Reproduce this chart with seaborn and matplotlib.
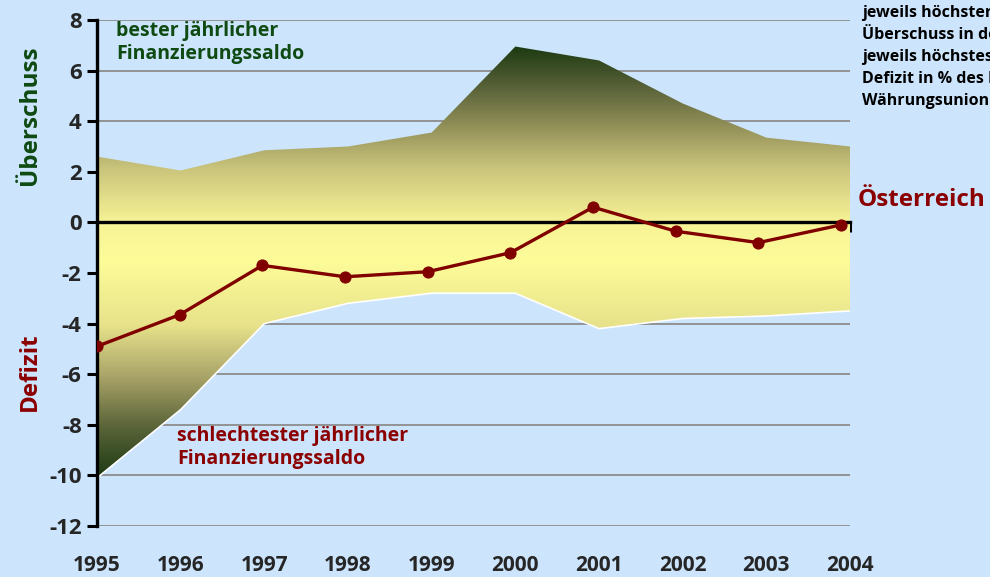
import numpy as np
import pandas as pd
import seaborn as sns
import matplotlib.pyplot as plt
from matplotlib.colors import LinearSegmentedColormap

# Finanzierungssaldo in % des BIP
jahre = [1995, 1996, 1997, 1998, 1999, 2000, 2001, 2002, 2003, 2004]
bester = [2.6, 2.05, 2.85, 3.0, 3.55, 6.95, 6.4, 4.7, 3.35, 3.0]
schlechtester = [-10.1, -7.4, -4.0, -3.2, -2.8, -2.8, -4.2, -3.8, -3.7, -3.5]
oesterreich = [-4.9, -3.65, -1.7, -2.15, -1.95, -1.2, 0.6, -0.35, -0.8, -0.1]
y_ticks = list(range(-12, 9, 2))

df = pd.DataFrame({'Jahr': jahre, 'Österreich': oesterreich})

hintergrund = '#cce5fd'
gruen = '#0f4a12'
rot = '#8b0000'

sns.set_theme(style='white', rc={'axes.facecolor': hintergrund, 'figure.facecolor': hintergrund})
plt.rcParams['font.family'] = ['Open Sans', 'DejaVu Sans']
plt.rcParams['font.weight'] = 'bold'
plt.rcParams['axes.unicode_minus'] = False

fig = plt.figure(figsize=(9.9, 5.77), dpi=100)
ax = fig.add_axes([0.098, 0.0884, 0.7606, 0.877])

# Verlaufsfarben
cmap_oben = LinearSegmentedColormap.from_list('oben', [
    (0.0, '#f6f295'), (0.3, '#cbc57c'), (0.55, '#918f58'), (0.8, '#505b33'), (1.0, '#1c3a10')])
cmap_unten = LinearSegmentedColormap.from_list('unten', [
    (0.0, '#1c3a12'), (0.2, '#5b6439'), (0.4, '#aaa569'), (0.6, '#e8e38b'),
    (0.85, '#fdfc99'), (1.0, '#f7f396')])
verlauf = np.linspace(0, 1, 256).reshape(-1, 1)

# obere Fläche (bester Saldo)
poly_oben = ax.fill_between(jahre, 0, bester, facecolor='none', edgecolor='none')
im = ax.imshow(verlauf, cmap=cmap_oben, origin='lower', aspect='auto',
               extent=[jahre[0], jahre[-1], 0, max(bester)], zorder=1)
im.set_clip_path(poly_oben.get_paths()[0], ax.transData)

# untere Fläche (schlechtester Saldo)
poly_unten = ax.fill_between(jahre, schlechtester, 0, facecolor='none', edgecolor='none')
im2 = ax.imshow(verlauf, cmap=cmap_unten, origin='lower', aspect='auto',
                extent=[jahre[0], jahre[-1], min(schlechtester), 0], zorder=1)
im2.set_clip_path(poly_unten.get_paths()[0], ax.transData)
ax.plot(jahre, schlechtester, color='white', lw=1.2, zorder=2)

ax.set_xlim(jahre[0], jahre[-1])
ax.set_ylim(-12, 8)
ax.set_yticks(y_ticks)
ax.yaxis.grid(True, color='#8c8c8c', lw=1.3)
ax.set_axisbelow(True)

# Achsen
for s in ['top', 'right']:
    ax.spines[s].set_visible(False)
ax.spines['left'].set_linewidth(2.4)
ax.spines['left'].set_color('black')
ax.spines['bottom'].set_position(('data', 0))
ax.spines['bottom'].set_linewidth(2.4)
ax.spines['bottom'].set_color('black')
ax.spines['bottom'].set_zorder(4)
ax.set_xticks(jahre)
ax.tick_params(axis='x', direction='out', length=7, width=2.2, color='black',
               bottom=True, labelbottom=False)
ax.tick_params(axis='y', direction='out', length=7, width=2.2, color='black',
               left=True, labelsize=16, pad=4)
for t in ax.get_yticklabels():
    t.set_fontweight('bold')

sec = ax.secondary_xaxis('bottom')
sec.set_xticks(jahre)
sec.spines['bottom'].set_visible(False)
sec.tick_params(length=0, labelsize=15, pad=21)
for t in sec.get_xticklabels():
    t.set_fontweight('bold')

# Österreich-Linie (leicht andere Kategorienskala wie im Original)
ax2 = ax.twiny()
sns.lineplot(data=df, x='Jahr', y='Österreich', ax=ax2, color='#800000', lw=2.4,
             marker='o', markersize=8, markeredgecolor='#800000', zorder=6)
ax2.set_xlim(jahre[0], jahre[0] + (jahre[-1] - jahre[0]) * 1.012)
ax2.set_ylim(ax.get_ylim())
ax2.axis('off')
ax.set_ylabel('')
ax.set_xlabel('')

# Beschriftungen
ax.text(0.025, 0.998, 'bester jährlicher\nFinanzierungssaldo', transform=ax.transAxes,
        ha='left', va='top', color=gruen, fontsize=14, fontweight='bold', linespacing=1.22)
ax.text(0.106, 0.198, 'schlechtester jährlicher\nFinanzierungssaldo', transform=ax.transAxes,
        ha='left', va='top', color=rot, fontsize=14, fontweight='bold', linespacing=1.22)
fig.text(0.030, 0.80, 'Überschuss', rotation=90, ha='center', va='center',
         color=gruen, fontsize=17.5, fontweight='bold')
fig.text(0.030, 0.355, 'Defizit', rotation=90, ha='center', va='center',
         color=rot, fontsize=17.5, fontweight='bold')
fig.text(0.866, 0.653, 'Österreich', ha='left', va='center', color=rot,
         fontsize=17.5, fontweight='bold')
fig.text(0.871, 0.992,
         'jeweils höchster\nÜberschuss in der WU\njeweils höchstes\nDefizit in % des BIP\nWährungsunion',
         ha='left', va='top', color='black', fontsize=11.5, fontweight='bold', linespacing=1.5)

plt.savefig('out.png', dpi=100, facecolor=hintergrund)
